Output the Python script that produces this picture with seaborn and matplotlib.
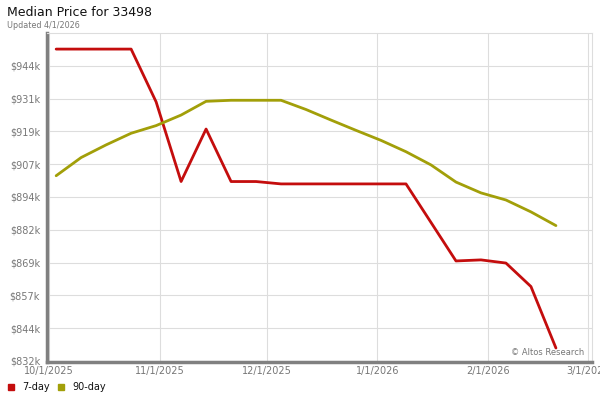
import pandas as pd
import matplotlib.pyplot as plt
from matplotlib.patches import Rectangle
import seaborn as sns

# weekly dates
dates = ["2025-10-03", "2025-10-10", "2025-10-17", "2025-10-24", "2025-10-31",
         "2025-11-07", "2025-11-14", "2025-11-21", "2025-11-28", "2025-12-05",
         "2025-12-12", "2025-12-19", "2025-12-26", "2026-01-02", "2026-01-09",
         "2026-01-16", "2026-01-23", "2026-01-30", "2026-02-06", "2026-02-13",
         "2026-02-20"]

# median price in $k
price_7day = [950.2, 950.2, 950.2, 950.2, 930.2, 900.0, 919.9, 900.0, 900.0, 899.1,
              899.1, 899.1, 899.1, 899.1, 899.1, 884.5, 869.9, 870.3, 869.1, 860.2,
              836.9]
price_90day = [902.2, 909.1, 913.9, 918.3, 921.2, 925.2, 930.4, 930.8, 930.8, 930.8,
               927.3, 923.3, 919.4, 915.6, 911.3, 906.3, 899.8, 895.7, 893.0, 888.5,
               883.3]

series_names = ["7-day", "90-day"]
series_colors = ["#c40d0d", "#a29f09"]

month_ticks = ["2025-10-01", "2025-11-01", "2025-12-01", "2026-01-01",
               "2026-02-01", "2026-03-01"]
month_labels = ["10/1/2025", "11/1/2025", "12/1/2025", "1/1/2026",
                "2/1/2026", "3/1/2026"]

y_ticks = [832 + i * 12.43 for i in range(10)]

# long-form table for seaborn
df = pd.DataFrame({
    "Date": pd.to_datetime(dates * 2),
    "Price": price_7day + price_90day,
    "Series": [series_names[0]] * len(dates) + [series_names[1]] * len(dates),
})

sns.set_theme(style="white")
plt.rcParams["font.family"] = ["DejaVu Sans"]

fig = plt.figure(figsize=(6, 4), dpi=100)
ax = fig.add_axes([47 / 600, 38 / 400, 545 / 600, 329 / 400])

sns.lineplot(data=df, x="Date", y="Price", hue="Series",
             palette=series_colors, linewidth=2.0, legend=False, ax=ax)

# about 3.57 px per day, Oct 1 sits 2 px right of the axis
ax.set_xlim(pd.Timestamp("2025-09-30 10:30"), pd.Timestamp("2026-03-02 02:30"))
ax.set_ylim(831.6, 956.3)

ax.set_xticks(pd.to_datetime(month_ticks))
ax.set_xticklabels(month_labels)
ax.set_yticks(y_ticks)
ax.set_yticklabels([f"${v:.0f}k" for v in y_ticks])

ax.grid(True, color="#dddddd", linewidth=0.8)
ax.set_axisbelow(True)
ax.tick_params(axis="both", length=0, labelsize=7, labelcolor="#777777")
ax.tick_params(axis="y", pad=5)
ax.tick_params(axis="x", pad=3)
ax.set_xlabel("")
ax.set_ylabel("")

for side in ["top", "right"]:
    ax.spines[side].set_color("#dddddd")
    ax.spines[side].set_linewidth(0.8)
for side in ["left", "bottom"]:
    ax.spines[side].set_color("#808080")
    ax.spines[side].set_linewidth(2.5)

ax.text(0.985, 0.015, "\u00a9 Altos Research", transform=ax.transAxes,
        ha="right", va="bottom", fontsize=6, color="#777777")

fig.text(7 / 600, 1 - 12 / 400, "Median Price for 33498", fontsize=9,
         ha="left", va="center", color="#111111")
fig.text(7 / 600, 1 - 25 / 400, "Updated 4/1/2026", fontsize=5.8,
         ha="left", va="center", color="#777777")

# legend: small squares with labels under the chart
legend_x = [(8, 22), (58, 72)]
for (sq_x, txt_x), name, color in zip(legend_x, series_names, series_colors):
    fig.patches.append(Rectangle((sq_x / 600, (400 - 390) / 400), 6 / 600, 6 / 400,
                                 transform=fig.transFigure, color=color))
    fig.text(txt_x / 600, 1 - 386.5 / 400, name, fontsize=7,
             ha="left", va="center", color="#111111")

fig.savefig("out.png", dpi=100)
